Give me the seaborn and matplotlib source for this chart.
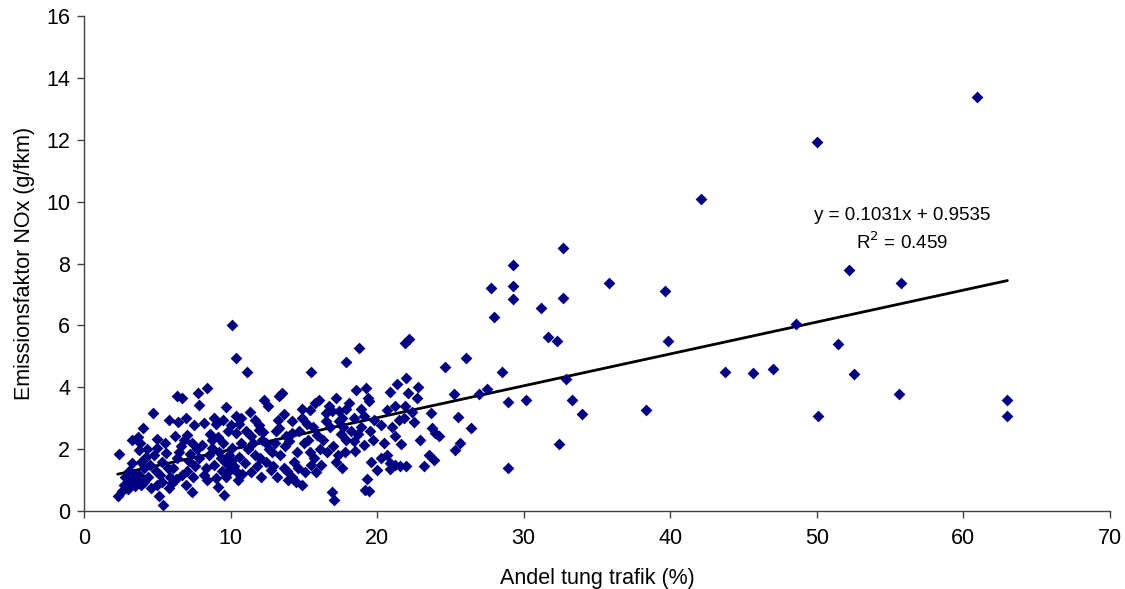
import numpy as np
import pandas as pd
import seaborn as sns
import matplotlib
matplotlib.use("Agg")
import matplotlib.pyplot as plt

# share of heavy traffic (%) and NOx emission factor (g/fkm)
andel = [
    2.3, 2.4, 2.6, 2.7, 2.8, 3.0, 3.1, 3.2, 3.3, 3.3, 3.4, 3.5, 3.6, 3.7, 3.75, 3.75, 3.8, 3.9, 3.9, 4.0, 4.1,
    4.1, 4.2, 4.3, 4.4, 4.5, 4.55, 4.7, 4.77, 4.9, 5.0, 5.0, 5.0, 5.1, 5.2, 5.3, 5.34, 5.39, 5.5, 5.57, 5.7, 5.8, 5.8, 5.9,
    6.03, 6.1, 6.2, 6.3, 6.32, 6.37, 6.43, 6.5, 6.6, 6.7, 6.71, 6.8, 6.93, 6.98, 7.0, 7.05, 7.16, 7.2, 7.39, 7.39,
    7.43, 7.5, 7.6, 7.7, 7.8, 7.84, 7.87,
    8.07, 8.18, 8.18, 8.3, 8.36, 8.4, 8.52, 8.6, 8.7, 8.75, 8.86, 8.9, 8.98, 9.0, 9.16, 9.16, 9.2, 9.32, 9.4, 9.48,
    9.5, 9.55, 9.66, 9.66, 9.7, 9.8, 9.9, 9.9,
    10.0, 10.1, 10.1, 10.1, 10.2, 10.34, 10.34, 10.39, 10.4, 10.5, 10.57, 10.6, 10.68, 10.7, 10.8, 11.0, 11.02, 11.09,
    11.2, 11.3, 11.36, 11.4, 11.5, 11.7, 11.7, 11.8, 11.93, 11.93, 12.0,
    12.05, 12.16, 12.2, 12.27, 12.39, 12.4, 12.57, 12.6, 12.73, 12.8, 12.9, 13.0, 13.07, 13.2, 13.25, 13.29, 13.3,
    13.4, 13.5, 13.63, 13.63, 13.7, 13.75, 13.86, 13.9, 13.97,
    14.2, 14.2, 14.2, 14.3, 14.43, 14.5, 14.6, 14.7, 14.89, 14.89, 14.9, 15.0, 15.1, 15.2, 15.3, 15.4, 15.4, 15.5,
    15.52, 15.6, 15.7, 15.79, 15.8, 15.9, 16.0,
    16.1, 16.2, 16.3, 16.48, 16.5, 16.6, 16.7, 16.8, 16.93, 16.93, 17.0, 17.04, 17.16, 17.2, 17.3, 17.38, 17.4, 17.5,
    17.6, 17.6, 17.7, 17.8, 17.9, 17.9, 17.9,
    18.1, 18.2, 18.4, 18.4, 18.5, 18.57, 18.7, 18.75, 18.9, 18.9, 19.09, 19.09, 19.2, 19.25, 19.32, 19.39, 19.47,
    19.47, 19.5, 19.6, 19.7, 19.77, 19.99,
    20.29, 20.29, 20.5, 20.68, 20.68, 20.86, 20.9, 20.91, 21.0, 21.2, 21.2, 21.2, 21.36, 21.47, 21.55, 21.66, 21.81,
    21.88, 21.93, 21.98,
    22.0, 22.11, 22.16, 22.4, 22.54, 22.73, 22.77, 22.95, 23.18, 23.52, 23.7, 23.75, 23.86, 23.98, 24.2,
    24.61, 25.22, 25.34, 25.52, 25.68, 26.09, 26.43, 26.93,
    27.5, 27.78, 28.0, 28.53, 28.9, 28.95, 29.24, 29.24, 29.24, 30.15, 31.2, 31.66, 32.3, 32.39, 32.71, 32.71, 32.91,
    33.27, 33.96, 35.79, 38.33, 39.67, 39.87, 42.12, 43.73, 45.67, 47.03, 48.6, 50.0, 50.1, 51.45, 52.16, 52.53,
    55.58, 55.75, 60.9, 62.94, 63.0,
]
nox = [
    0.50, 1.84, 0.65, 0.84, 1.10, 0.70, 1.30, 0.95, 1.55, 2.31, 1.20, 0.80, 1.00, 2.40, 1.17, 1.98, 2.20, 1.60, 0.85, 2.68, 1.40,
    0.95, 1.76, 2.00, 1.11, 1.50, 0.74, 3.16, 1.82, 1.30, 0.84, 2.04, 2.34, 0.50, 1.17, 0.95, 1.60, 0.19, 2.20, 1.87, 1.40, 2.95, 0.75, 1.11,
    0.90, 1.40, 2.41, 1.05, 3.71, 1.71, 2.88, 1.90, 2.09, 1.17, 3.66, 2.30, 0.84, 2.99, 1.30, 2.45, 1.62, 1.85, 0.61, 2.20,
    1.11, 2.77, 1.45, 2.00, 3.82, 1.71, 3.44,
    2.14, 2.85, 1.17, 1.40, 3.96, 1.00, 1.82, 2.50, 2.30, 2.04, 3.01, 1.50, 1.06, 2.80, 2.38, 0.76, 1.90, 1.71, 1.30, 2.95,
    2.20, 0.52, 1.55, 1.11, 3.35, 2.60, 1.80, 1.30,
    2.79, 6.00, 2.04, 1.66, 1.45, 3.06, 2.52, 4.93, 1.30, 1.00, 1.76, 2.80, 3.01, 2.20, 1.20, 1.55, 2.57, 4.49,
    2.00, 3.20, 2.41, 1.25, 2.20, 1.80, 2.95, 1.45, 2.79, 2.63, 1.70,
    1.11, 2.30, 2.55, 3.60, 2.20, 1.60, 3.41, 2.00, 1.33, 1.90, 1.45, 2.20, 2.57, 1.10, 2.95, 2.68, 3.73,
    1.80, 3.82, 3.12, 1.39, 2.10, 2.41, 1.28, 1.00, 2.25,
    2.90, 2.52, 1.11, 1.60, 0.95, 1.90, 1.40, 2.60, 3.01, 0.84, 3.30, 2.20, 1.25, 2.80, 2.30, 1.90, 3.25, 1.50,
    4.50, 2.70, 1.70, 3.50, 1.25, 2.45, 3.60,
    2.00, 1.50, 2.30, 3.17, 2.90, 1.90, 3.40, 2.70, 3.22, 0.63, 2.10, 0.36, 3.66, 1.60, 1.80, 3.22, 2.90, 2.50,
    3.01, 1.40, 2.70, 1.90, 2.30, 3.30, 4.83,
    3.50, 2.60, 3.01, 2.25, 1.93, 3.90, 2.50, 5.28, 2.70, 3.30, 3.06, 2.14, 0.68, 3.96, 1.04, 3.66, 3.55,
    0.65, 2.60, 1.60, 2.30, 2.95, 1.33,
    2.79, 1.71, 2.20, 3.25, 1.82, 1.54, 1.35, 3.84, 2.70, 3.39, 2.41, 1.50, 4.12, 2.95, 1.45, 2.16, 3.01,
    5.44, 3.39, 1.47,
    4.31, 3.80, 5.55, 3.20, 2.88, 3.66, 4.02, 2.31, 1.46, 1.82, 3.17, 2.68, 1.66, 2.52, 2.41,
    4.65, 3.77, 1.98, 3.03, 2.20, 4.96, 2.68, 3.77,
    3.93, 7.22, 6.28, 4.49, 1.40, 3.52, 7.94, 7.27, 6.85, 3.60, 6.56, 5.64, 5.48, 2.16, 8.51, 6.88, 4.28,
    3.60, 3.12, 7.38, 3.27, 7.12, 5.50, 10.07, 4.49, 4.45, 4.60, 6.06, 11.92, 3.06, 5.39, 7.79, 4.42,
    3.78, 7.36, 13.37, 3.06, 3.60,
]

# trend line as given on the chart
slope = 0.1031
intercept = 0.9535
r2 = 0.459

df = pd.DataFrame({"andel": andel, "nox": nox})

sns.set_style("white")
plt.rcParams["font.family"] = ["Liberation Sans", "DejaVu Sans"]
plt.rcParams["text.color"] = "black"
plt.rcParams["axes.labelcolor"] = "black"
plt.rcParams["xtick.color"] = "black"
plt.rcParams["ytick.color"] = "black"

fig = plt.figure(figsize=(11.25, 5.89), dpi=100)
ax = fig.add_axes([84 / 1125, 78 / 589, 1026 / 1125, 495 / 589])

sns.scatterplot(data=df, x="andel", y="nox", marker="D", s=36, color="#000080",
                linewidth=0, ax=ax, zorder=3)

xs = np.array([df["andel"].min(), df["andel"].max()])
sns.lineplot(x=xs, y=slope * xs + intercept, color="black", linewidth=2, ax=ax, zorder=2)

ax.text(55.8, 9.55, f"y = {slope}x + {intercept}", ha="center", va="center", fontsize=13.5)
ax.text(55.8, 8.68, f"R$^2$ = {r2}", ha="center", va="center", fontsize=13.5)

ax.set_xlim(0, 70)
ax.set_ylim(0, 16)
ax.set_xticks(range(0, 71, 10))
ax.set_yticks(range(0, 17, 2))
ax.tick_params(axis="both", labelsize=15.5, length=5, width=1, color="#404040",
               direction="out", bottom=True, left=True)
ax.tick_params(axis="x", pad=7)
ax.tick_params(axis="y", pad=5)
ax.set_xlabel("Andel tung trafik (%)", fontsize=15.5, labelpad=14)
ax.set_ylabel("Emissionsfaktor NOx (g/fkm)", fontsize=15.5, labelpad=8)

sns.despine(ax=ax)
for side in ["left", "bottom"]:
    ax.spines[side].set_color("#404040")
    ax.spines[side].set_linewidth(1)

fig.savefig("out.png", dpi=100)
